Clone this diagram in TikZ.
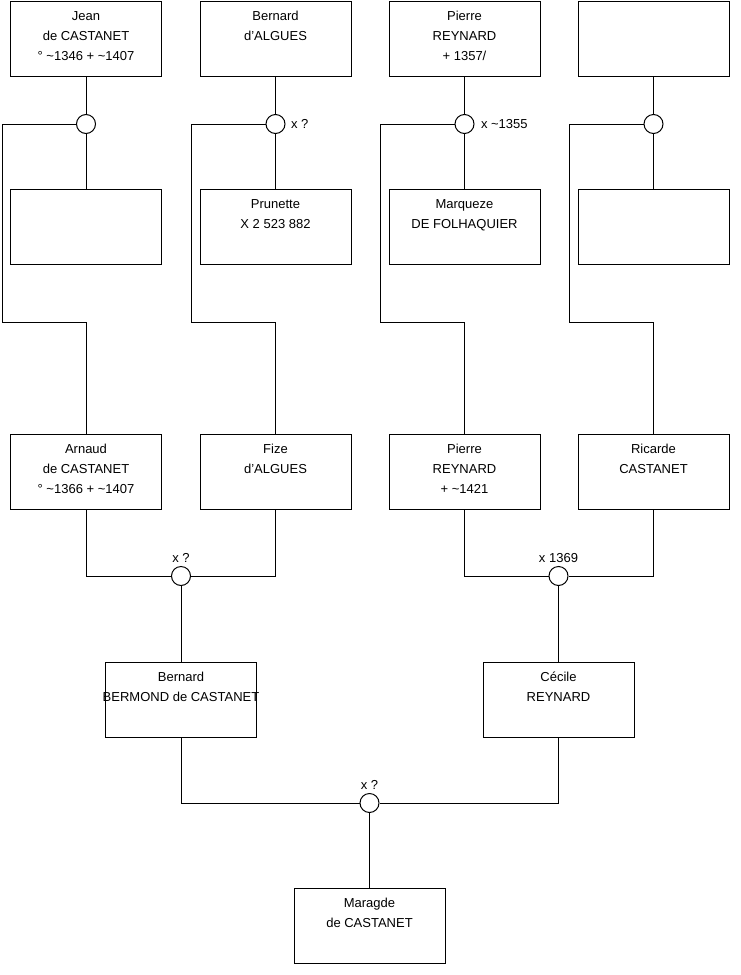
\documentclass[tikz,border=0pt]{standalone}
\usepackage{fontspec}
\setmainfont{Liberation Sans}
\newcommand{\fiche}[1]{\parbox[c][75pt][t]{151pt}{\centering
  \leftskip=-30pt plus 1fil\rightskip=-30pt plus 1fil
  \rule{0pt}{19pt}#1}}

\begin{document}
\begin{tikzpicture}[x=1pt,y=-1pt,line width=1pt,
  pers/.style={draw,fill=white,rectangle,inner sep=0pt,
    minimum width=151pt,minimum height=75pt,
    font=\fontsize{13}{20}\selectfont},
  uni/.style={draw,fill=white,circle,inner sep=0pt,minimum size=19pt},
  lab/.style={inner sep=0pt,font=\fontsize{13}{15}\selectfont}
]
  \useasboundingbox (0,0) rectangle (740,975);

  % grands-parents
  \node[pers] (p1) at (86,38.5)    {\fiche{Jean\\de CASTANET\\° \textasciitilde1346 + \textasciitilde1407}};
  \node[pers] (p2) at (275.5,38.5) {\fiche{Bernard\\d'ALGUES}};
  \node[pers] (p3) at (464.5,38.5) {\fiche{Pierre\\REYNARD\\+ 1357/}};
  \node[pers] (p4) at (653.5,38.5) {\fiche{}};

  \node[uni] (u1) at (86,124)    {};
  \node[uni] (u2) at (275.5,124) {};
  \node[uni] (u3) at (464.5,124) {};
  \node[uni] (u4) at (653.5,124) {};

  \node[pers] (e1) at (86,227)    {\fiche{}};
  \node[pers] (e2) at (275.5,227) {\fiche{Prunette\\X 2 523 882}};
  \node[pers] (e3) at (464.5,227) {\fiche{Marqueze\\DE FOLHAQUIER}};
  \node[pers] (e4) at (653.5,227) {\fiche{}};

  \coordinate (k1) at (2,322);
  \coordinate (k2) at (191,322);
  \coordinate (k3) at (380,322);
  \coordinate (k4) at (569,322);

  % parents
  \node[pers] (g1) at (86,472)    {\fiche{Arnaud\\de CASTANET\\° \textasciitilde1366 + \textasciitilde1407}};
  \node[pers] (g2) at (275.5,472) {\fiche{Fize\\d'ALGUES}};
  \node[pers] (g3) at (464.5,472) {\fiche{Pierre\\REYNARD\\+ \textasciitilde1421}};
  \node[pers] (g4) at (653.5,472) {\fiche{Ricarde\\CASTANET}};

  \node[uni] (v1) at (181,576)   {};
  \node[uni] (v2) at (558.5,576) {};

  \node[pers] (h1) at (181,699.5)   {\fiche{Bernard\\BERMOND de CASTANET}};
  \node[pers] (h2) at (558.5,699.5) {\fiche{Cécile\\REYNARD}};

  \node[uni] (w) at (369.5,803) {};
  \node[pers] (m) at (369.5,926) {\fiche{Maragde\\de CASTANET}};

  \foreach \i in {1,...,4} {
    \draw (p\i) -- (u\i);
    \draw (u\i) -- (e\i);
    \draw (u\i.west) -| (k\i) -| (g\i.north);
  }
  \draw (g1.south) |- (v1.west);
  \draw (g2.south) |- (v1.east);
  \draw (v1) -- (h1);
  \draw (g3.south) |- (v2.west);
  \draw (g4.south) |- (v2.east);
  \draw (v2) -- (h2);
  \draw (h1.south) |- (w.west);
  \draw (h2.south) |- (w.east);
  \draw (w) -- (m);

  % dates de mariage
  \node[lab,anchor=base west] (x2) at ([xshift=5pt,yshift=-4.5pt]u2.east) {x ?};
  \node[lab,anchor=base west] (x3) at ([xshift=6pt,yshift=-4.5pt]u3.east) {x \textasciitilde1355};
  \node[lab,anchor=base] (y1) at ([yshift=3.5pt]v1.north) {x ?};
  \node[lab,anchor=base] (y2) at ([yshift=3.5pt]v2.north) {x 1369};
  \node[lab,anchor=base] (z)  at ([yshift=3.5pt]w.north)  {x ?};
\end{tikzpicture}
\end{document}
